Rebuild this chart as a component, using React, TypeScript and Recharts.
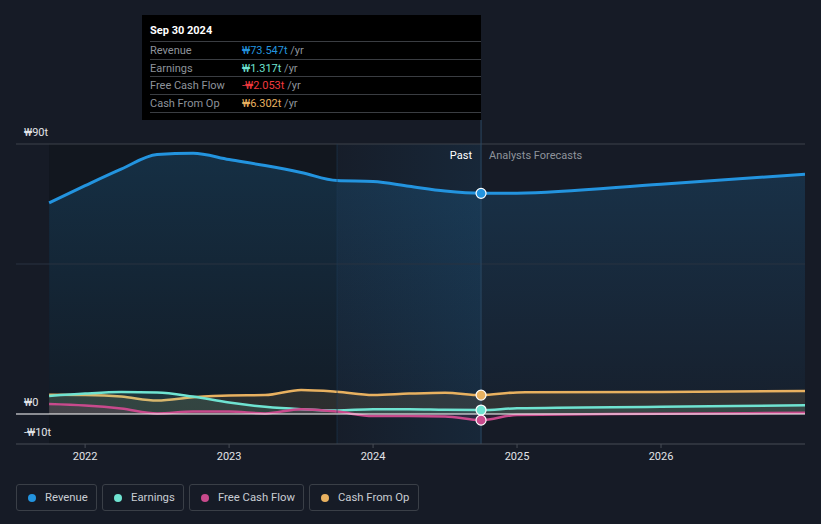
import { Area, ComposedChart, ReferenceArea, ReferenceDot, ReferenceLine, XAxis, YAxis } from 'recharts';

// quarterly trailing figures (₩ trillions) + analyst forecasts
const periods = [2021.75, 2022, 2022.25, 2022.5, 2022.75, 2023, 2023.25, 2023.5, 2023.75, 2024, 2024.25, 2024.5, 2024.75, 2025, 2026, 2027];
const revenue = [70.4, 76.1, 81.6, 86.5, 86.9, 84.8, 82.8, 80.5, 77.8, 77.5, 75.9, 74.3, 73.547, 73.6, 76.6, 79.9];
const earnings = [6.0, 6.8, 7.3, 7.2, 5.8, 3.8, 2.4, 1.6, 1.2, 1.6, 1.6, 1.4, 1.317, 1.9, 2.4, 2.9];
const freeCashFlow = [3.3, 2.8, 1.8, 0.2, 0.8, 0.8, 0.2, 1.6, 0.8, -0.7, -0.7, -0.8, -2.053, -0.3, 0.1, 0.4];
const cashFromOp = [6.4, 6.3, 5.8, 4.5, 5.6, 6.2, 6.3, 8.0, 7.4, 6.3, 6.8, 7.1, 6.302, 7.2, 7.3, 7.7];

const yearTicks = [2022, 2023, 2024, 2025, 2026];
const yLabels = [
  { value: 90, text: '₩90t' },
  { value: 0, text: '₩0' },
  { value: -10, text: '-₩10t' },
];

const pastStart = 2023.75;
const current = 2024.75;
const currentIdx = periods.indexOf(current);

const series = [
  { key: 'revenue', name: 'Revenue', color: '#2394DF', values: revenue },
  { key: 'earnings', name: 'Earnings', color: '#6FE3D1', values: earnings },
  { key: 'fcf', name: 'Free Cash Flow', color: '#C84A8C', values: freeCashFlow },
  { key: 'cfo', name: 'Cash From Op', color: '#E8B160', values: cashFromOp },
];

const data = periods.map((t, i) => ({
  t,
  revenue: revenue[i],
  earnings: earnings[i],
  fcf: freeCashFlow[i],
  cfo: cashFromOp[i],
}));

const BG = '#161B26';
const FONT = 'Roboto, "Noto Sans", sans-serif';

const fmt = (v: number) => (v < 0 ? '-' : '') + '₩' + Math.abs(v).toFixed(3) + 't';

function YLabel({ viewBox, text }: any) {
  return (
    <text x={viewBox.x + 8} y={viewBox.y - 8} fill="#E2E4E8" fontSize={11} fontFamily={FONT}>
      {text}
    </text>
  );
}

export default function App() {
  return (
    <div style={{ position: 'fixed', left: 0, top: 0, width: 821, height: 524, background: BG, fontFamily: FONT }}>
      <ComposedChart width={821} height={470} data={data} margin={{ top: 144, right: 16, bottom: 0, left: 16 }}>
        <defs>
          <linearGradient id="revFill" x1="0" y1="0" x2="0" y2="1">
            <stop offset="0%" stopColor="#2394DF" stopOpacity={0.32} />
            <stop offset="100%" stopColor="#2394DF" stopOpacity={0.06} />
          </linearGradient>
          <linearGradient id="pastFill" x1="0" y1="0" x2="1" y2="0">
            <stop offset="0%" stopColor="#2394DF" stopOpacity={0.04} />
            <stop offset="100%" stopColor="#2394DF" stopOpacity={0.2} />
          </linearGradient>
        </defs>
        <XAxis
          type="number"
          dataKey="t"
          domain={[2021.52, 2027]}
          allowDataOverflow
          ticks={yearTicks}
          tickFormatter={(v) => String(v)}
          height={26}
          tickSize={4}
          tickMargin={4}
          axisLine={{ stroke: '#474C55' }}
          tickLine={{ stroke: '#474C55' }}
          tick={{ fill: '#E2E4E8', fontSize: 11, fontFamily: FONT }}
        />
        <YAxis type="number" domain={[-10, 90]} allowDataOverflow hide />
        <ReferenceArea x1={periods[0]} x2={pastStart} y1={-10} y2={90} fill="#05070b" fillOpacity={0.22} stroke="none" />
        <ReferenceArea x1={pastStart} x2={current} y1={-10} y2={90} fill="url(#pastFill)" stroke="none" />
        <ReferenceLine y={90} stroke="#3C424B" label={<YLabel text={yLabels[0].text} />} />
        <ReferenceLine y={50} stroke="#283240" />
        <ReferenceLine x={pastStart} stroke="#1E3A55" strokeOpacity={0.6} />
        <Area type="monotone" dataKey="revenue" stroke="#2394DF" strokeWidth={3} fill="url(#revFill)" baseValue={0} isAnimationActive={false} dot={false} activeDot={false} />
        <Area type="monotone" dataKey="cfo" stroke="#E8B160" strokeWidth={2.5} fill="#E8B160" fillOpacity={0.12} baseValue={0} isAnimationActive={false} dot={false} activeDot={false} />
        <Area type="monotone" dataKey="earnings" stroke="#6FE3D1" strokeWidth={2.5} fill="#6FE3D1" fillOpacity={0.12} baseValue={0} isAnimationActive={false} dot={false} activeDot={false} />
        <Area type="monotone" dataKey="fcf" stroke="#C84A8C" strokeWidth={2.5} fill="#C84A8C" fillOpacity={0.12} baseValue={0} isAnimationActive={false} dot={false} activeDot={false} />
        <ReferenceLine y={0} stroke="#FFFFFF" strokeWidth={1.2} label={<YLabel text={yLabels[1].text} />} />
        <ReferenceLine y={-10} stroke="none" label={<YLabel text={yLabels[2].text} />} />
        <ReferenceLine
          segment={[{ x: current, y: 98 }, { x: current, y: -10 }]}
          stroke="#2A4763"
          strokeWidth={1}
          ifOverflow="visible"
        />
        {series.map((s) => (
          <ReferenceDot key={s.key} x={current} y={s.values[currentIdx]} r={5} fill={s.color} stroke="#FFFFFF" strokeWidth={1.2} ifOverflow="visible" />
        ))}
      </ComposedChart>

      <div style={{ position: 'absolute', left: 0, top: 150, width: 472, textAlign: 'right', fontSize: 11, color: '#FFFFFF', lineHeight: '12px' }}>Past</div>
      <div style={{ position: 'absolute', left: 489, top: 150, fontSize: 11, color: '#8E939B', lineHeight: '12px' }}>Analysts Forecasts</div>

      <div style={{ position: 'absolute', left: 142, top: 15, width: 339, height: 105, background: '#000000' }}>
        <div style={{ position: 'absolute', left: 8, top: 9, fontSize: 11, fontWeight: 700, color: '#FFFFFF', lineHeight: '13px' }}>Sep 30 2024</div>
        {series.map((s, i) => {
          const v = s.values[currentIdx];
          return (
            <div
              key={s.key}
              style={{
                position: 'absolute',
                left: 8,
                right: 0,
                top: 26 + i * 17.5,
                height: 17.5,
                borderTop: '1px solid #3A3D42',
                borderBottom: i === 3 ? '1px solid #3A3D42' : undefined,
                fontSize: 11,
                lineHeight: '17px',
              }}
            >
              <span style={{ position: 'absolute', left: 0, color: '#8E939B' }}>{s.name}</span>
              <span style={{ position: 'absolute', left: 92, whiteSpace: 'nowrap' }}>
                <span style={{ color: s.key === 'fcf' && v < 0 ? '#F0393F' : s.color }}>{fmt(v)}</span>
                <span style={{ color: '#8E939B' }}> /yr</span>
              </span>
            </div>
          );
        })}
      </div>

      {series.map((s, i) => {
        const lefts = [16, 102, 189, 309];
        const widths = [81, 82, 115, 110];
        return (
          <div
            key={s.key}
            style={{
              position: 'absolute',
              left: lefts[i],
              top: 484,
              width: widths[i],
              height: 27,
              boxSizing: 'border-box',
              border: '1px solid #3A3F47',
              borderRadius: 3,
              display: 'flex',
              alignItems: 'center',
              paddingLeft: 11,
              fontSize: 11.3,
              color: '#C9CDD3',
            }}
          >
            <span style={{ width: 8, height: 8, borderRadius: 4, background: s.color, marginRight: 9, flex: 'none' }} />
            {s.name}
          </div>
        );
      })}
    </div>
  );
}
